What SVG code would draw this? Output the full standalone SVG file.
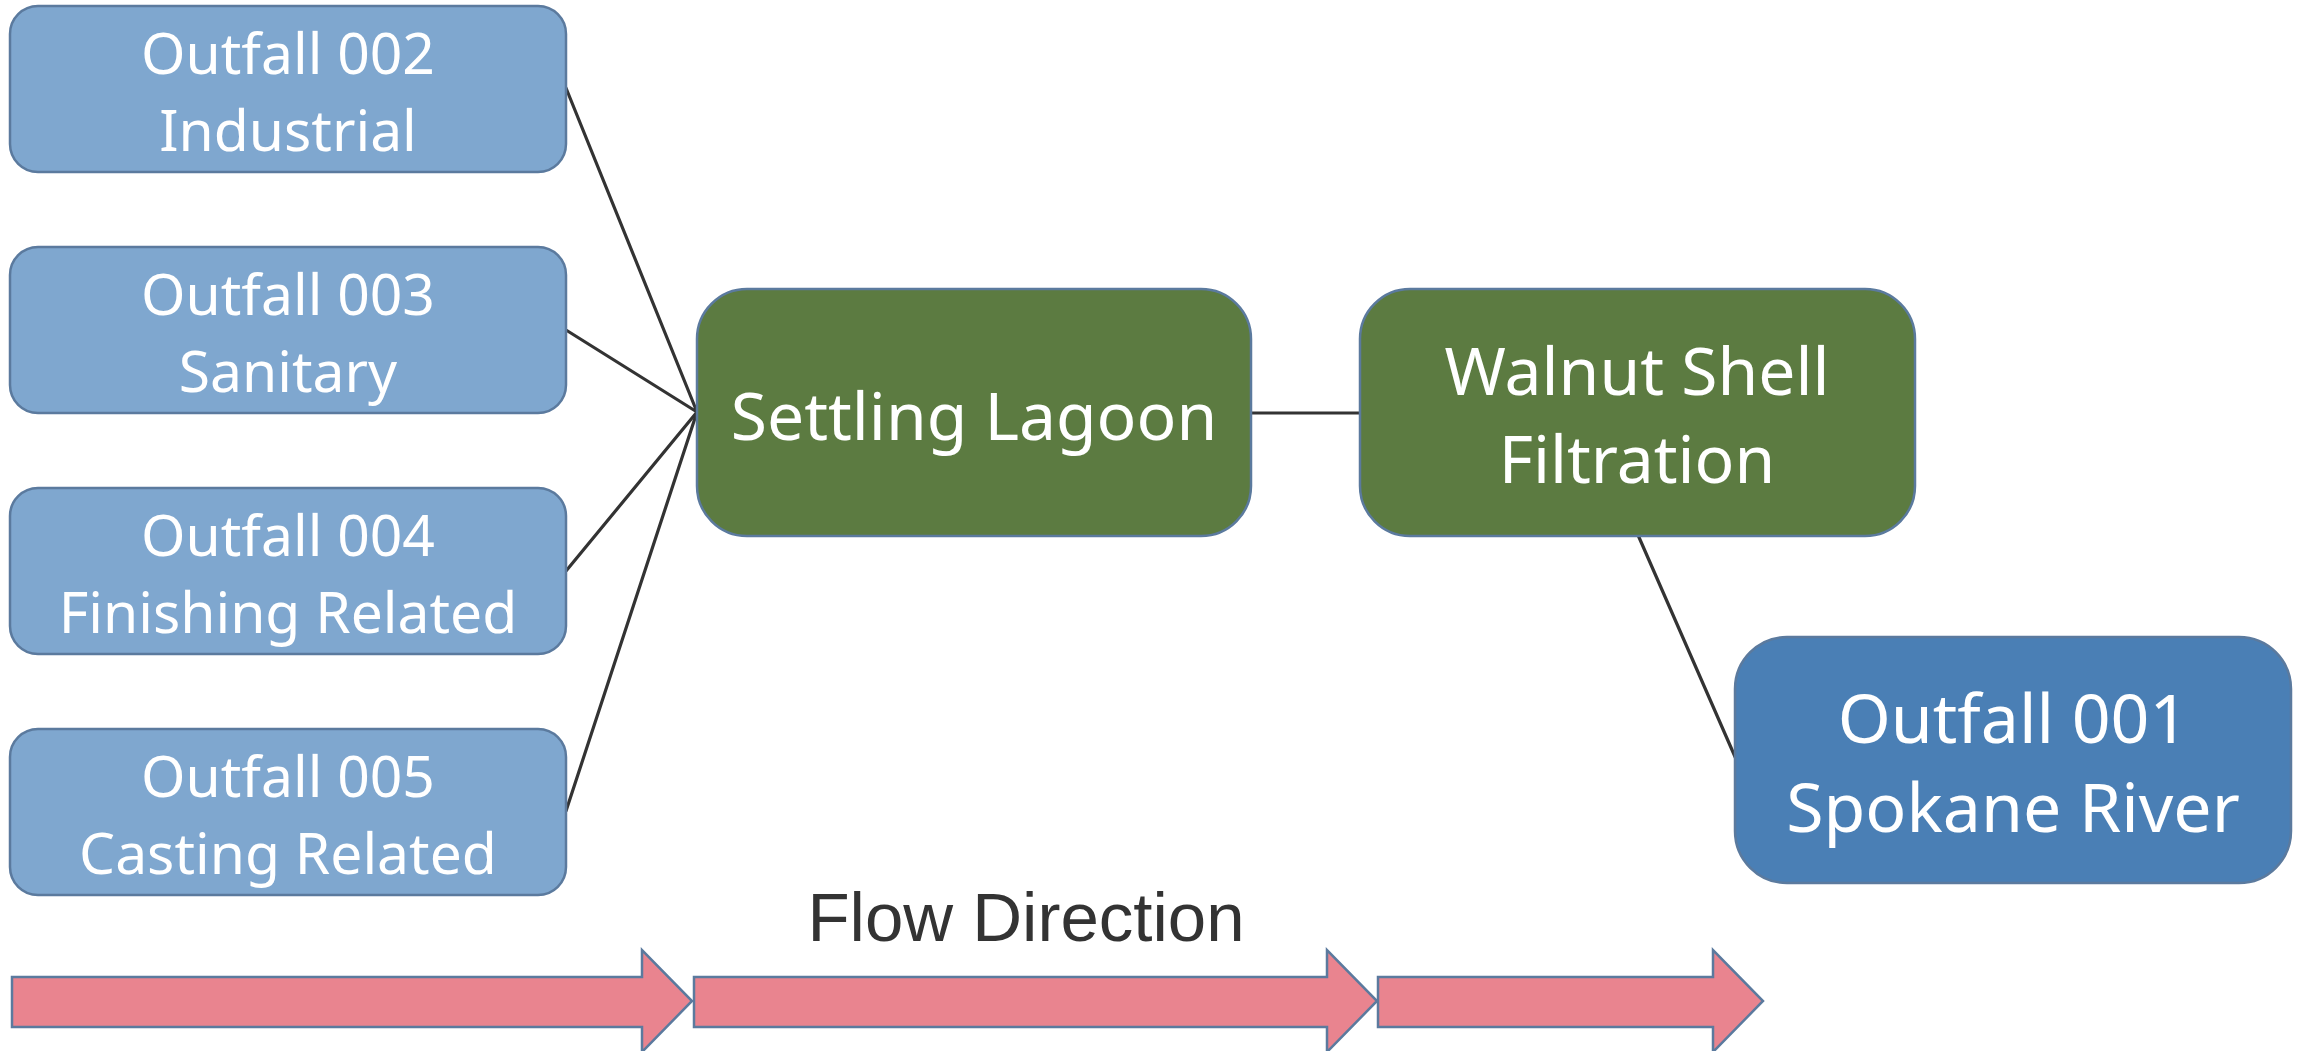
<svg xmlns="http://www.w3.org/2000/svg" width="2300" height="1051" viewBox="0 0 2300 1051">
<style>
.src{fill:#7FA7CF;stroke:#5B7A9E;stroke-width:2.5}
.proc{fill:#5C7B41;stroke:#5B7A9E;stroke-width:2.5}
.out{fill:#4A7FB5;stroke:#5B7A9E;stroke-width:2.5}
.t{font-family:"Noto Sans","Liberation Sans",sans-serif;fill:#FFFFFF;text-anchor:middle}
.conn line{stroke:#333333;stroke-width:3.2;stroke-linecap:round}
.flow{fill:#E9848F;stroke:#5B7A9E;stroke-width:2.5}
</style>
<rect width="2300" height="1051" fill="#FFFFFF"/>
<g id="connectors" class="conn">
<line x1="566" y1="88" x2="697" y2="412"/>
<line x1="566" y1="330" x2="697" y2="412"/>
<line x1="566" y1="571" x2="697" y2="412"/>
<line x1="566" y1="811" x2="697" y2="412"/>
<line x1="1251" y1="413" x2="1360" y2="413"/>
<line x1="1638" y1="535" x2="1736" y2="759"/>
</g>
<g id="outfall002">
<rect class="src" x="10" y="6" width="556" height="166" rx="28"/>
<text class="t" x="288" y="74" font-size="57">Outfall 002</text>
<text class="t" x="288" y="151" font-size="57">Industrial</text>
</g>
<g id="outfall003">
<rect class="src" x="10" y="247" width="556" height="166" rx="28"/>
<text class="t" x="288" y="315" font-size="57">Outfall 003</text>
<text class="t" x="288" y="392" font-size="57">Sanitary</text>
</g>
<g id="outfall004">
<rect class="src" x="10" y="488" width="556" height="166" rx="28"/>
<text class="t" x="288" y="556" font-size="57">Outfall 004</text>
<text class="t" x="288" y="633" font-size="57">Finishing Related</text>
</g>
<g id="outfall005">
<rect class="src" x="10" y="729" width="556" height="166" rx="28"/>
<text class="t" x="288" y="797" font-size="57">Outfall 005</text>
<text class="t" x="288" y="874" font-size="57">Casting Related</text>
</g>
<g id="settling">
<rect class="proc" x="697" y="289" width="554" height="247" rx="50"/>
<text class="t" x="974" y="440" font-size="66">Settling Lagoon</text>
</g>
<g id="walnut">
<rect class="proc" x="1360" y="289" width="555" height="247" rx="50"/>
<text class="t" x="1637" y="395" font-size="66">Walnut Shell</text>
<text class="t" x="1637" y="483" font-size="66">Filtration</text>
</g>
<g id="outfall001">
<rect class="out" x="1735" y="637" width="556" height="246" rx="52"/>
<text class="t" x="2013" y="743" font-size="68">Outfall 001</text>
<text class="t" x="2013" y="832" font-size="68">Spokane River</text>
</g>
<g id="flow">
<text x="1026" y="941" font-family="'Liberation Sans',Arial,sans-serif" font-size="69" fill="#333333" text-anchor="middle">Flow Direction</text>
<polygon class="flow" points="12,977 642,977 642,950 692,1001 642,1052 642,1027 12,1027"/>
<polygon class="flow" points="694,977 1327,977 1327,950 1377,1001 1327,1052 1327,1027 694,1027"/>
<polygon class="flow" points="1378,977 1713,977 1713,950 1763,1001 1713,1052 1713,1027 1378,1027"/>
</g>
</svg>
